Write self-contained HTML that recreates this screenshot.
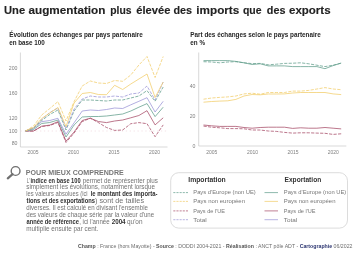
<!DOCTYPE html>
<html><head><meta charset="utf-8"><style>
html,body{margin:0;padding:0;background:#fff;width:360px;height:254px;overflow:hidden}
svg{display:block;font-family:"Liberation Sans",sans-serif;will-change:transform}
</style></head><body>
<svg width="360" height="254" viewBox="0 0 360 254">
<text x="4.0" y="13.9" font-size="10.6" font-weight="bold" fill="#222" text-anchor="start" textLength="21.1" lengthAdjust="spacingAndGlyphs" stroke="#222" stroke-width="0.12">Une</text>
<text x="28.5" y="13.9" font-size="10.6" font-weight="bold" fill="#222" text-anchor="start" textLength="76.9" lengthAdjust="spacingAndGlyphs" stroke="#222" stroke-width="0.12">augmentation</text>
<text x="110.2" y="13.9" font-size="10.6" font-weight="bold" fill="#222" text-anchor="start" textLength="21.3" lengthAdjust="spacingAndGlyphs" stroke="#222" stroke-width="0.12">plus</text>
<text x="136.3" y="13.9" font-size="10.6" font-weight="bold" fill="#222" text-anchor="start" textLength="34.1" lengthAdjust="spacingAndGlyphs" stroke="#222" stroke-width="0.12">élevée</text>
<text x="173.5" y="13.9" font-size="10.6" font-weight="bold" fill="#222" text-anchor="start" textLength="18.6" lengthAdjust="spacingAndGlyphs" stroke="#222" stroke-width="0.12">des</text>
<text x="196.3" y="13.9" font-size="10.6" font-weight="bold" fill="#222" text-anchor="start" textLength="43.0" lengthAdjust="spacingAndGlyphs" stroke="#222" stroke-width="0.12">imports</text>
<text x="242.9" y="13.9" font-size="10.6" font-weight="bold" fill="#222" text-anchor="start" textLength="18.6" lengthAdjust="spacingAndGlyphs" stroke="#222" stroke-width="0.12">que</text>
<text x="266.8" y="13.9" font-size="10.6" font-weight="bold" fill="#222" text-anchor="start" textLength="18.6" lengthAdjust="spacingAndGlyphs" stroke="#222" stroke-width="0.12">des</text>
<text x="289.0" y="13.9" font-size="10.6" font-weight="bold" fill="#222" text-anchor="start" textLength="41.6" lengthAdjust="spacingAndGlyphs" stroke="#222" stroke-width="0.12">exports</text>
<text transform="translate(9.2 36.7) scale(1 1.08)" x="0" y="0" font-size="6.5" font-weight="bold" fill="#262626" text-anchor="start" textLength="133.6" lengthAdjust="spacingAndGlyphs">Évolution des échanges par pays partenaire</text>
<text transform="translate(9.2 44.7) scale(1 1.08)" x="0" y="0" font-size="6.5" font-weight="bold" fill="#262626" text-anchor="start" textLength="35.6" lengthAdjust="spacingAndGlyphs">en base 100</text>
<text transform="translate(190.3 36.7) scale(1 1.08)" x="0" y="0" font-size="6.5" font-weight="bold" fill="#262626" text-anchor="start" textLength="130.5" lengthAdjust="spacingAndGlyphs">Part des échanges selon le pays partenaire</text>
<text transform="translate(190.3 44.7) scale(1 1.08)" x="0" y="0" font-size="6.5" font-weight="bold" fill="#262626" text-anchor="start" textLength="14.7" lengthAdjust="spacingAndGlyphs">en %</text>
<line x1="20.4" y1="52.5" x2="20.4" y2="147" stroke="#c8c8c8" stroke-width="0.7"/>
<line x1="20.4" y1="147" x2="167.5" y2="147" stroke="#c8c8c8" stroke-width="0.7"/>
<line x1="20.5" y1="131" x2="167.5" y2="131" stroke="#ecd0d6" stroke-width="0.6" stroke-dasharray="1.3,2.6"/>
<text x="17.5" y="70.4" font-size="5.2" font-weight="normal" fill="#808080" text-anchor="end">200</text>
<text x="17.5" y="95.4" font-size="5.2" font-weight="normal" fill="#808080" text-anchor="end">160</text>
<text x="17.5" y="120.4" font-size="5.2" font-weight="normal" fill="#808080" text-anchor="end">120</text>
<text x="17.5" y="132.9" font-size="5.2" font-weight="normal" fill="#808080" text-anchor="end">100</text>
<text x="17.5" y="145.4" font-size="5.2" font-weight="normal" fill="#808080" text-anchor="end">80</text>
<text x="33" y="154.3" font-size="5" font-weight="normal" fill="#808080" text-anchor="middle">2005</text>
<text x="73.5" y="154.3" font-size="5" font-weight="normal" fill="#808080" text-anchor="middle">2010</text>
<text x="114" y="154.3" font-size="5" font-weight="normal" fill="#808080" text-anchor="middle">2015</text>
<text x="154.5" y="154.3" font-size="5" font-weight="normal" fill="#808080" text-anchor="middle">2020</text>
<polyline points="25.5,131.0 33.6,131.0 41.7,126.5 49.8,125.5 57.9,122.5 66.0,142.5 74.1,133.0 82.2,121.6 90.3,118.2 98.4,122.6 106.5,127.5 114.6,130.4 122.7,130.0 130.8,123.7 138.9,122.6 147.0,123.7 155.1,136.7 163.2,124.9" fill="none" stroke="#a64a66" stroke-width="0.75" stroke-dasharray="3.2,1.3" stroke-linejoin="round"/>
<polyline points="25.5,131.0 33.6,131.0 41.7,126.2 49.8,125.1 57.9,121.7 66.0,141.1 74.1,132.0 82.2,120.5 90.3,118.2 98.4,121.5 106.5,122.6 114.6,121.0 122.7,120.0 130.8,117.8 138.9,115.5 147.0,110.7 155.1,124.9 163.2,117.8" fill="none" stroke="#a64a66" stroke-width="0.75" stroke-linejoin="round"/>
<polyline points="25.5,131.0 33.6,129.5 41.7,123.5 49.8,122.5 57.9,120.0 66.0,137.0 74.1,125.0 82.2,117.0 90.3,116.5 98.4,116.5 106.5,116.0 114.6,115.0 122.7,114.0 130.8,111.0 138.9,107.2 147.0,103.6 155.1,116.6 163.2,107.2" fill="none" stroke="#5f9c89" stroke-width="0.75" stroke-linejoin="round"/>
<polyline points="25.5,131.0 33.6,128.5 41.7,121.7 49.8,120.5 57.9,118.3 66.0,134.2 74.1,122.8 82.2,111.0 90.3,110.0 98.4,110.5 106.5,109.5 114.6,108.0 122.7,108.5 130.8,104.8 138.9,101.3 147.0,97.7 155.1,112.0 163.2,101.3" fill="none" stroke="#9a93d6" stroke-width="0.75" stroke-linejoin="round"/>
<polyline points="25.5,131.0 33.6,128.0 41.7,120.5 49.8,114.5 57.9,110.0 66.0,130.0 74.1,111.0 82.2,100.0 90.3,100.0 98.4,100.5 106.5,101.0 114.6,100.0 122.7,100.0 130.8,98.0 138.9,96.0 147.0,90.6 155.1,101.3 163.2,87.0" fill="none" stroke="#5f9c89" stroke-width="0.75" stroke-dasharray="3.2,1.3" stroke-linejoin="round"/>
<polyline points="25.5,131.0 33.6,127.4 41.7,119.4 49.8,112.5 57.9,108.0 66.0,128.5 74.1,109.0 82.2,99.0 90.3,96.0 98.4,97.0 106.5,97.0 114.6,96.0 122.7,97.0 130.8,94.0 138.9,93.0 147.0,86.0 155.1,100.0 163.2,82.0" fill="none" stroke="#9a93d6" stroke-width="0.75" stroke-dasharray="3.2,1.3" stroke-linejoin="round"/>
<polyline points="25.5,131.0 33.6,127.5 41.7,118.5 49.8,113.0 57.9,107.5 66.0,126.5 74.1,103.0 82.2,93.5 90.3,92.5 98.4,94.5 106.5,94.7 114.6,85.3 122.7,89.5 130.8,84.0 138.9,79.0 147.0,74.0 155.1,97.5 163.2,82.0" fill="none" stroke="#f1cc68" stroke-width="0.75" stroke-linejoin="round"/>
<polyline points="25.5,131.0 33.6,126.0 41.7,115.0 49.8,108.5 57.9,101.6 66.0,121.0 74.1,101.5 82.2,86.0 90.3,81.0 98.4,83.0 106.5,83.5 114.6,80.5 122.7,81.3 130.8,75.0 138.9,65.0 147.0,56.5 155.1,77.5 163.2,56.5" fill="none" stroke="#f1cc68" stroke-width="0.75" stroke-dasharray="3.2,1.3" stroke-linejoin="round"/>
<line x1="198.7" y1="52.5" x2="198.7" y2="146" stroke="#c8c8c8" stroke-width="0.7"/>
<line x1="198.7" y1="146" x2="346.3" y2="146" stroke="#c8c8c8" stroke-width="0.7"/>
<text x="195.5" y="88.05" font-size="5.2" font-weight="normal" fill="#808080" text-anchor="end">40</text>
<text x="195.5" y="118.05" font-size="5.2" font-weight="normal" fill="#808080" text-anchor="end">20</text>
<text x="195.5" y="148.05" font-size="5.2" font-weight="normal" fill="#808080" text-anchor="end">0</text>
<text x="211.7" y="154.3" font-size="5" font-weight="normal" fill="#808080" text-anchor="middle">2005</text>
<text x="252.5" y="154.3" font-size="5" font-weight="normal" fill="#808080" text-anchor="middle">2010</text>
<text x="293" y="154.3" font-size="5" font-weight="normal" fill="#808080" text-anchor="middle">2015</text>
<text x="333.3" y="154.3" font-size="5" font-weight="normal" fill="#808080" text-anchor="middle">2020</text>
<polyline points="203.5,126.1 211.6,127.2 219.7,127.8 227.8,128.6 235.9,128.6 244.0,128.8 252.1,130.0 260.2,130.0 268.3,131.0 276.4,131.4 284.5,132.4 292.6,133.1 300.7,132.8 308.8,132.8 316.9,133.1 325.0,133.3 333.1,134.4 341.2,133.8" fill="none" stroke="#a64a66" stroke-width="0.75" stroke-dasharray="3.2,1.3" stroke-linejoin="round"/>
<polyline points="203.5,125.0 211.6,125.8 219.7,126.4 227.8,126.4 235.9,126.4 244.0,127.5 252.1,128.2 260.2,127.5 268.3,127.2 276.4,127.2 284.5,127.2 292.6,128.4 300.7,127.8 308.8,128.2 316.9,128.2 325.0,127.5 333.1,128.2 341.2,128.9" fill="none" stroke="#a64a66" stroke-width="0.75" stroke-linejoin="round"/>
<polyline points="203.5,102.2 211.6,101.5 219.7,101.1 227.8,100.8 235.9,99.4 244.0,96.0 252.1,94.5 260.2,94.8 268.3,94.0 276.4,94.0 284.5,93.9 292.6,93.0 300.7,92.5 308.8,92.5 316.9,92.5 325.0,92.5 333.1,93.9 341.2,94.6" fill="none" stroke="#f1cc68" stroke-width="0.75" stroke-linejoin="round"/>
<polyline points="203.5,99.2 211.6,98.0 219.7,97.4 227.8,96.9 235.9,96.0 244.0,93.9 252.1,93.2 260.2,94.2 268.3,92.5 276.4,92.5 284.5,92.5 292.6,91.1 300.7,91.1 308.8,90.4 316.9,89.0 325.0,87.6 333.1,89.0 341.2,89.7" fill="none" stroke="#f1cc68" stroke-width="0.75" stroke-dasharray="3.2,1.3" stroke-linejoin="round"/>
<polyline points="203.5,61.7 211.6,62.0 219.7,62.8 227.8,62.0 235.9,61.7 244.0,62.8 252.1,63.6 260.2,63.4 268.3,64.8 276.4,64.2 284.5,63.4 292.6,63.2 300.7,62.8 308.8,63.8 316.9,65.2 325.0,66.6 333.1,65.2 341.2,63.1" fill="none" stroke="#5f9c89" stroke-width="0.75" stroke-dasharray="3.2,1.3" stroke-linejoin="round"/>
<polyline points="203.5,60.6 211.6,60.6 219.7,60.6 227.8,60.6 235.9,61.4 244.0,62.8 252.1,64.5 260.2,63.8 268.3,65.9 276.4,65.9 284.5,65.9 292.6,66.6 300.7,66.6 308.8,66.6 316.9,66.6 325.0,68.7 333.1,65.6 341.2,63.1" fill="none" stroke="#5f9c89" stroke-width="0.75" stroke-linejoin="round"/>
<circle cx="15.6" cy="171" r="4.4" fill="none" stroke="#707070" stroke-width="1.4"/>
<line x1="12.6" y1="174.2" x2="7.8" y2="178.4" stroke="#707070" stroke-width="2.2" stroke-linecap="round"/>
<text x="25.8" y="174.8" font-size="7.0" font-weight="bold" fill="#777" text-anchor="start" textLength="98" lengthAdjust="spacingAndGlyphs">POUR MIEUX COMPRENDRE</text>
<text transform="translate(26.7 182.6) scale(1 1.08)" x="0" y="0" font-size="6.2" font-weight="normal" fill="#727272" text-anchor="start" textLength="3.3" lengthAdjust="spacingAndGlyphs">L'</text>
<text transform="translate(30.4 182.6) scale(1 1.08)" x="0" y="0" font-size="6.2" font-weight="bold" fill="#333" text-anchor="start" textLength="50.2" lengthAdjust="spacingAndGlyphs">indice en base 100</text>
<text transform="translate(82.7 182.6) scale(1 1.08)" x="0" y="0" font-size="6.2" font-weight="normal" fill="#727272" text-anchor="start" textLength="75.3" lengthAdjust="spacingAndGlyphs">permet de représenter plus</text>
<text transform="translate(26.3 189.45) scale(1 1.08)" x="0" y="0" font-size="6.2" font-weight="normal" fill="#727272" text-anchor="start" textLength="128.6" lengthAdjust="spacingAndGlyphs">simplement les évolutions, notamment lorsque</text>
<text transform="translate(26.3 196.3) scale(1 1.08)" x="0" y="0" font-size="6.2" font-weight="normal" fill="#727272" text-anchor="start" textLength="61.3" lengthAdjust="spacingAndGlyphs">les valeurs absolues (ici</text>
<text transform="translate(90.7 196.3) scale(1 1.08)" x="0" y="0" font-size="6.2" font-weight="bold" fill="#333" text-anchor="start" textLength="66.8" lengthAdjust="spacingAndGlyphs">le montant des importa-</text>
<text transform="translate(26.5 203.15) scale(1 1.08)" x="0" y="0" font-size="6.2" font-weight="bold" fill="#333" text-anchor="start" textLength="68.5" lengthAdjust="spacingAndGlyphs">tions et des exportations</text>
<text transform="translate(95.0 203.15) scale(1 1.08)" x="0" y="0" font-size="6.2" font-weight="normal" fill="#727272" text-anchor="start" textLength="49.05" lengthAdjust="spacingAndGlyphs">) sont de tailles</text>
<text transform="translate(26.3 210.0) scale(1 1.08)" x="0" y="0" font-size="6.2" font-weight="normal" fill="#727272" text-anchor="start" textLength="121.6" lengthAdjust="spacingAndGlyphs">diverses. Il est calculé en divisant l'ensemble</text>
<text transform="translate(26.3 216.85) scale(1 1.08)" x="0" y="0" font-size="6.2" font-weight="normal" fill="#727272" text-anchor="start" textLength="127.8" lengthAdjust="spacingAndGlyphs">des valeurs de chaque série par la valeur d'une</text>
<text transform="translate(26.5 223.7) scale(1 1.08)" x="0" y="0" font-size="6.2" font-weight="bold" fill="#333" text-anchor="start" textLength="52.5" lengthAdjust="spacingAndGlyphs">année de référence</text>
<text transform="translate(79.2 223.7) scale(1 1.08)" x="0" y="0" font-size="6.2" font-weight="normal" fill="#727272" text-anchor="start" textLength="30.4" lengthAdjust="spacingAndGlyphs">, ici l'année</text>
<text transform="translate(111.7 223.7) scale(1 1.08)" x="0" y="0" font-size="6.2" font-weight="bold" fill="#333" text-anchor="start" textLength="13.9" lengthAdjust="spacingAndGlyphs">2004</text>
<text transform="translate(127.0 223.7) scale(1 1.08)" x="0" y="0" font-size="6.2" font-weight="normal" fill="#727272" text-anchor="start" textLength="15.5" lengthAdjust="spacingAndGlyphs">qu'on</text>
<text transform="translate(26.3 230.55) scale(1 1.08)" x="0" y="0" font-size="6.2" font-weight="normal" fill="#727272" text-anchor="start" textLength="72.0" lengthAdjust="spacingAndGlyphs">multiplie ensuite par cent.</text>
<rect x="170.7" y="172.7" width="176.8" height="55.4" rx="8" ry="8" fill="none" stroke="#c4c4c4" stroke-width="0.6"/>
<text x="188.25" y="182" font-size="6.4" font-weight="bold" fill="#333" text-anchor="start" textLength="37.5" lengthAdjust="spacingAndGlyphs">Importation</text>
<text x="284.5" y="182" font-size="6.4" font-weight="bold" fill="#333" text-anchor="start" textLength="36.75" lengthAdjust="spacingAndGlyphs">Exportation</text>
<line x1="173.3" y1="192.6" x2="188" y2="192.6" stroke="#5f9c89" stroke-width="0.7" stroke-dasharray="2.1,1.05"/>
<text x="193.25" y="193.75" font-size="6.0" font-weight="normal" fill="#777" text-anchor="start" textLength="62.5" lengthAdjust="spacingAndGlyphs">Pays d'Europe (non UE)</text>
<line x1="264.5" y1="192.6" x2="278" y2="192.6" stroke="#5f9c89" stroke-width="0.7"/>
<text x="283.75" y="193.75" font-size="6.0" font-weight="normal" fill="#777" text-anchor="start" textLength="62.5" lengthAdjust="spacingAndGlyphs">Pays d'Europe (non UE)</text>
<line x1="173.3" y1="201.4" x2="188" y2="201.4" stroke="#f1cc68" stroke-width="0.7" stroke-dasharray="2.1,1.05"/>
<text x="193.25" y="203" font-size="6.0" font-weight="normal" fill="#777" text-anchor="start" textLength="51.75" lengthAdjust="spacingAndGlyphs">Pays non européen</text>
<line x1="264.5" y1="201.4" x2="278" y2="201.4" stroke="#f1cc68" stroke-width="0.7"/>
<text x="283.75" y="203" font-size="6.0" font-weight="normal" fill="#777" text-anchor="start" textLength="51.75" lengthAdjust="spacingAndGlyphs">Pays non européen</text>
<line x1="173.3" y1="210.9" x2="188" y2="210.9" stroke="#a64a66" stroke-width="0.7" stroke-dasharray="2.1,1.05"/>
<text x="193.25" y="212.5" font-size="6.0" font-weight="normal" fill="#777" text-anchor="start" textLength="31.75" lengthAdjust="spacingAndGlyphs">Pays de l'UE</text>
<line x1="264.5" y1="210.9" x2="278" y2="210.9" stroke="#a64a66" stroke-width="0.7"/>
<text x="283.75" y="212.5" font-size="6.0" font-weight="normal" fill="#777" text-anchor="start" textLength="31.75" lengthAdjust="spacingAndGlyphs">Pays de l'UE</text>
<line x1="173.3" y1="219.7" x2="188" y2="219.7" stroke="#9a93d6" stroke-width="0.7" stroke-dasharray="2.1,1.05"/>
<text x="193.25" y="221.75" font-size="6.0" font-weight="normal" fill="#777" text-anchor="start" textLength="13.5" lengthAdjust="spacingAndGlyphs">Total</text>
<line x1="264.5" y1="219.7" x2="278" y2="219.7" stroke="#9a93d6" stroke-width="0.7"/>
<text x="283.75" y="221.75" font-size="6.0" font-weight="normal" fill="#777" text-anchor="start" textLength="13.5" lengthAdjust="spacingAndGlyphs">Total</text>
<text x="78" y="247.5" font-size="5" font-weight="normal" fill="#6e6e6e" text-anchor="start" textLength="274.5" lengthAdjust="spacingAndGlyphs"><tspan font-weight='bold' fill='#555'>Champ</tspan> : France (hors Mayotte) - <tspan font-weight='bold' fill='#555'>Source</tspan> : DODDI 2004-2021 - <tspan font-weight='bold' fill='#555'>Réalisation</tspan> : ANCT pôle ADT - <tspan font-weight='bold' fill='#2c3570'>Cartographie</tspan> 06/2022</text>
</svg>
</body></html>
